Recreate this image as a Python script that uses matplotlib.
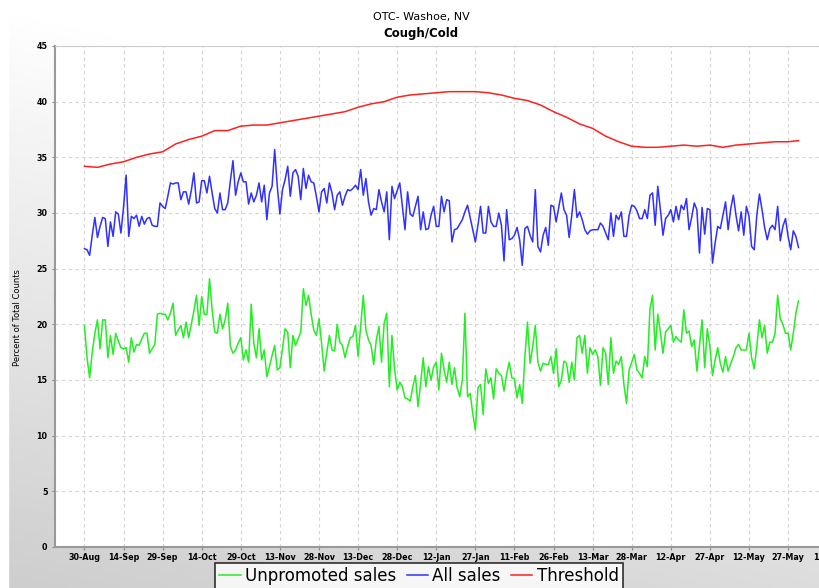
import numpy as np
import pandas as pd
import matplotlib
matplotlib.use("Agg")
import matplotlib.pyplot as plt
import matplotlib.dates as mdates

# Daily series, 30-Aug-2010 .. 31-May-2011
start_date = "2010-08-30"

all_sales = [
    26.8, 26.7, 26.2, 28.0, 29.6, 27.8, 28.8, 29.6, 29.5, 27.0,
    29.2, 27.9, 30.1, 29.9, 28.2, 30.5, 33.4, 27.9, 29.7, 29.5,
    29.8, 28.8, 29.7, 29.0, 29.5, 29.6, 28.9, 28.8, 28.8, 30.9,
    30.6, 30.4, 31.5, 32.7, 32.6, 32.7, 32.7, 31.2, 31.9, 31.9,
    30.8, 32.0, 33.6, 30.9, 31.0, 32.9, 32.9, 31.8, 33.3, 31.8,
    30.4, 30.0, 31.8, 30.3, 30.3, 30.9, 32.9, 34.7, 31.6, 32.8,
    33.6, 32.8, 32.8, 30.8, 31.8, 31.0, 31.6, 32.7, 31.0, 32.5,
    29.4, 31.8, 32.4, 35.7, 32.4, 29.9, 32.1, 33.0, 34.2, 31.5,
    33.6, 33.9, 33.3, 31.2, 34.0, 32.2, 33.4, 32.8, 32.7, 31.5,
    30.1, 31.9, 32.2, 30.9, 32.7, 31.8, 30.3, 31.6, 31.9, 30.7,
    31.5, 32.1, 32.0, 32.2, 32.5, 32.1, 33.9, 31.6, 33.1, 31.0,
    29.8, 30.4, 30.3, 32.1, 31.0, 30.1, 31.9, 27.6, 32.4, 31.3,
    32.0, 32.7, 30.6, 28.5, 31.9, 29.9, 29.7, 30.6, 31.5, 28.5,
    30.1, 28.5, 28.6, 29.8, 30.6, 28.8, 28.8, 31.5, 30.1, 31.2,
    31.1, 27.4, 28.5, 28.6, 29.0, 29.4, 30.1, 30.7, 29.6, 28.5,
    27.4, 28.9, 30.6, 28.2, 28.2, 30.6, 29.2, 28.8, 28.8, 30.0,
    28.9, 25.7, 30.3, 27.6, 27.7, 28.0, 28.7, 27.6, 25.3, 28.6,
    28.8, 28.0, 27.4, 32.1, 27.0, 26.5, 28.0, 28.7, 27.1, 30.7,
    30.6, 29.2, 30.5, 31.8, 30.3, 29.8, 27.8, 29.8, 32.1, 29.6,
    30.1, 29.4, 28.5, 28.1, 28.4, 28.5, 28.5, 28.5, 29.1, 28.8,
    28.2, 27.6, 30.0, 27.9, 29.8, 29.4, 30.1, 27.9, 27.9, 29.8,
    30.7, 30.6, 30.2, 29.5, 29.5, 30.3, 29.5, 31.6, 31.8, 28.9,
    32.4, 30.3, 28.0, 29.5, 29.8, 30.3, 29.2, 30.6, 29.4, 30.7,
    30.3, 31.3, 28.5, 29.6, 30.9, 30.3, 26.4, 30.5, 28.1, 30.4,
    30.3, 25.5, 27.3, 28.8, 28.6, 29.8, 31.0, 28.5, 30.4, 31.6,
    29.8, 28.4, 30.1, 28.0, 30.6, 29.7, 27.0, 26.7, 29.8, 31.7,
    30.3, 28.7, 27.6, 28.6, 28.9, 28.5, 30.6, 27.5, 28.8, 29.5,
    27.9, 26.7, 28.4, 27.9, 26.9,
]

unpromoted_sales = [
    19.9, 17.0, 15.2, 17.5, 19.2, 20.4, 17.8, 20.4, 20.4, 17.0,
    19.0, 17.3, 19.2, 18.5, 17.9, 17.8, 17.9, 16.6, 18.8, 17.5,
    18.2, 18.1, 18.7, 19.2, 19.2, 17.4, 17.8, 18.2, 20.9, 21.0,
    20.9, 20.9, 20.4, 21.0, 21.9, 19.0, 19.5, 19.9, 18.8, 20.2,
    18.8, 20.0, 21.2, 22.6, 19.9, 22.5, 20.9, 20.9, 24.1, 21.3,
    19.3, 19.2, 20.9, 19.6, 20.4, 21.9, 18.0, 17.4, 17.7, 18.3,
    18.8, 16.8, 17.7, 16.6, 21.8, 18.3, 17.0, 19.6, 16.8, 17.7,
    15.3, 16.2, 17.2, 18.1, 15.9, 16.1, 17.8, 19.6, 19.3, 16.1,
    19.0, 18.1, 18.7, 19.3, 23.2, 21.7, 22.6, 20.9, 19.5, 19.0,
    20.5, 18.3, 15.8, 17.5, 19.0, 17.7, 17.6, 20.0, 18.4, 18.1,
    17.0, 18.0, 18.8, 18.9, 19.9, 17.1, 19.8, 22.6, 19.5, 18.6,
    18.1, 16.4, 18.6, 19.8, 16.6, 20.1, 21.0, 14.4, 19.0, 16.0,
    14.1, 14.8, 14.4, 13.4, 13.3, 13.1, 14.4, 15.4, 12.6, 14.7,
    17.0, 14.4, 16.2, 15.0, 16.2, 16.6, 14.1, 17.4, 15.9, 14.8,
    16.6, 14.6, 16.1, 14.3, 13.5, 15.0, 21.0, 13.5, 13.8, 12.0,
    10.5, 14.3, 14.6, 11.9, 16.0, 14.7, 15.2, 13.3, 16.0, 15.6,
    15.4, 14.0, 15.5, 16.6, 15.2, 15.1, 13.4, 14.6, 12.9, 17.1,
    20.2, 16.5, 18.0, 19.9, 16.6, 15.8, 16.5, 16.4, 16.4, 17.1,
    15.6, 17.8, 14.4, 15.0, 16.7, 16.5, 14.8, 16.6, 15.0, 18.8,
    19.0, 17.4, 19.0, 15.6, 17.9, 17.3, 17.7, 17.1, 14.5, 17.9,
    17.4, 14.6, 18.8, 15.6, 16.7, 16.4, 17.1, 14.6, 12.9, 15.9,
    16.6, 17.3, 15.9, 15.6, 15.2, 17.1, 16.2, 21.4, 22.6, 17.7,
    20.9, 19.3, 17.4, 19.3, 19.6, 19.9, 18.4, 18.9, 18.6, 18.4,
    21.3, 19.2, 19.4, 18.0, 18.6, 15.8, 18.1, 20.4, 16.1, 19.6,
    18.0, 15.4, 16.8, 17.9, 16.5, 15.7, 17.1, 15.8, 16.5, 17.1,
    17.9, 18.2, 17.7, 17.7, 17.7, 19.2, 17.0, 16.0, 18.0, 20.4,
    18.8, 19.9, 17.4, 18.4, 18.4, 19.2, 22.6, 20.5, 20.0, 19.2,
    19.2, 17.7, 19.2, 21.0, 22.1,
]

# threshold read every 5 days (last point on day 274)
threshold_days = list(range(0, 275, 5)) + [274]
threshold = [
    34.2, 34.1, 34.4, 34.6, 35.0, 35.3, 35.5, 36.2, 36.6, 36.9,
    37.4, 37.4, 37.8, 37.9, 37.9, 38.1, 38.3, 38.5, 38.7, 38.9,
    39.1, 39.5, 39.8, 40.0, 40.4, 40.6, 40.7, 40.8, 40.9, 40.9,
    40.9, 40.8, 40.6, 40.3, 40.1, 39.7, 39.1, 38.6, 38.0, 37.6,
    36.9, 36.4, 36.0, 35.9, 35.9, 36.0, 36.1, 36.0, 36.1, 35.9,
    36.1, 36.2, 36.3, 36.4, 36.4, 36.5,
]

y_ticks = [0, 5, 10, 15, 20, 25, 30, 35, 40, 45]

dates = pd.date_range(start_date, periods=len(all_sales), freq="D")
thr_dates = pd.Timestamp(start_date) + pd.to_timedelta(threshold_days, unit="D")
tick_dates = pd.date_range(start_date, periods=20, freq="15D")

fig = plt.figure(figsize=(8.2, 5.88), dpi=100)

# grey gradient panel behind the chart
bg = fig.add_axes([0, 0, 1, 1], zorder=-5)
yy, xx = np.mgrid[0:1:300j, 0:1:400j]
t = np.clip(yy * 1.0 + (1 - xx) * 0.3 - 0.3, 0, 1)
bg.imshow(255 - t * 50, cmap="gray", vmin=0, vmax=255, aspect="auto",
          extent=[0, 1, 1, 0])
bg.axvspan(0, 8 / 820, color="white")
bg.set_xlim(0, 1)
bg.set_ylim(1, 0)
bg.axis("off")

ax = fig.add_axes([55 / 820, 1 - 547 / 588, 780 / 820, 501 / 588])
ax.set_facecolor("white")

ax.plot(dates, unpromoted_sales, color="#22ee22", lw=1.1, label="Unpromoted sales")
ax.plot(dates, all_sales, color="#3030ff", lw=1.1, label="All sales")
ax.plot(thr_dates, threshold, color="#ff2020", lw=1.1, label="Threshold")

ax.set_ylim(0, 45)
ax.set_yticks(y_ticks)
ax.set_xlim(pd.Timestamp("2010-08-18 17:00"), pd.Timestamp("2011-06-14"))
ax.set_xticks(tick_dates)
ax.xaxis.set_major_formatter(mdates.DateFormatter("%d-%b"))

ax.grid(True, color="#d4d4d4", ls=(0, (3, 3)), lw=0.8)
ax.set_axisbelow(True)
for side in ["top", "right"]:
    ax.spines[side].set_color("#cccccc")
    ax.spines[side].set_linewidth(0.8)
for side in ["left", "bottom"]:
    ax.spines[side].set_color("#999999")
    ax.spines[side].set_linewidth(1.5)

ax.tick_params(axis="both", length=2.5, width=0.8, color="#888888", pad=3)
ax.tick_params(axis="x", pad=1.5)
for lbl in ax.get_xticklabels() + ax.get_yticklabels():
    lbl.set_fontweight("bold")
    lbl.set_fontsize(5.8)

ax.set_ylabel("Percent of Total Counts", fontsize=6)
ax.yaxis.set_label_coords(-0.042, 0.457)

fig.text(421 / 820, 1 - 17 / 588, "OTC- Washoe, NV", ha="center", va="center",
         fontsize=8)
fig.text(421 / 820, 1 - 33 / 588, "Cough/Cold", ha="center", va="center",
         fontsize=8.5, fontweight="bold")

leg = fig.legend(loc="upper center", bbox_to_anchor=(419 / 820, 1 - 563 / 588),
                 ncol=3, fontsize=12, frameon=True, fancybox=False,
                 handlelength=1.3, handletextpad=0.25, columnspacing=0.6,
                 borderpad=0.25, borderaxespad=0)
leg.get_frame().set_edgecolor("black")
leg.get_frame().set_linewidth(1.2)

fig.savefig("out.png", dpi=100)
